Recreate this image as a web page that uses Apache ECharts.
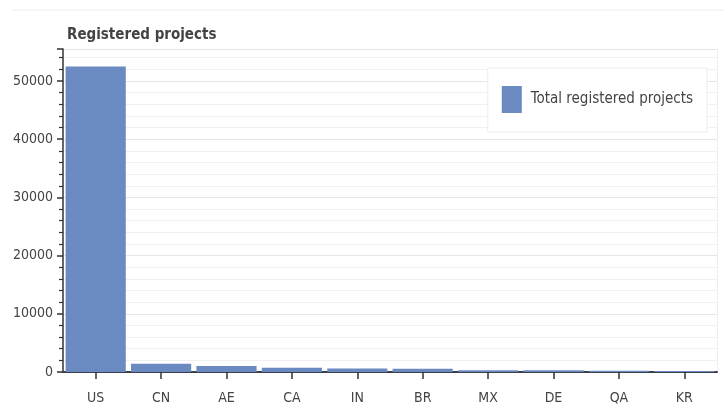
<!DOCTYPE html>
<html>
<head>
<meta charset="utf-8">
<script src="https://cdn.jsdelivr.net/npm/echarts@6/dist/echarts.min.js"></script>
<style>
  html, body { margin: 0; padding: 0; background: #fff; }
  #chart { width: 724px; height: 406px; }
</style>
</head>
<body>
<div id="chart"></div>
<script>
// Registered projects per country
const countries = ['US', 'CN', 'AE', 'CA', 'IN', 'BR', 'MX', 'DE', 'QA', 'KR'];
const registeredProjects = [52500, 1400, 1050, 750, 600, 550, 300, 280, 200, 180];
const seriesName = 'Total registered projects';
const yTickStep = 10000;

const FONT = '"Liberation Sans Narrow", "DejaVu Sans Condensed", "Liberation Sans", sans-serif';
const TEXT = '#444';
const BAR = '#6b8ac2';

const chart = echarts.init(document.getElementById('chart'), null, { renderer: 'canvas' });

chart.setOption({
  animation: false,
  backgroundColor: '#fff',
  title: {
    text: 'Registered projects',
    left: 62, top: 23,
    textStyle: { fontFamily: FONT, fontSize: 15, fontWeight: 'bold', color: TEXT }
  },
  legend: {
    right: 17, top: 68,
    orient: 'vertical',
    backgroundColor: '#fff',
    borderColor: '#ececec', borderWidth: 1,
    padding: [18, 14, 19, 14],
    itemWidth: 20, itemHeight: 27,
    itemGap: 10,
    icon: 'rect',
    textStyle: { fontFamily: FONT, fontSize: 15, color: TEXT, padding: [0, 0, 0, 4] },
    data: [seriesName]
  },
  grid: { left: 63, right: 7, top: 49, bottom: 34, containLabel: false },
  xAxis: {
    type: 'category',
    data: countries,
    axisLine: { show: true, lineStyle: { color: '#3a3f4a', width: 2 } },
    axisTick: { show: true, alignWithLabel: true, length: 7, lineStyle: { color: '#333', width: 1.5 } },
    axisLabel: { fontFamily: FONT, fontSize: 14, color: TEXT, margin: 19 },
    splitLine: { show: false }
  },
  yAxis: {
    type: 'value',
    min: 0, max: 55500, interval: yTickStep,
    axisLine: { show: true, lineStyle: { color: '#333', width: 1.5 } },
    axisTick: { show: true, length: 6, inside: false, lineStyle: { color: '#333', width: 1.5 } },
    minorTick: { show: true, splitNumber: 5, length: 4, lineStyle: { color: '#333', width: 1.2 } },
    axisLabel: {
      fontFamily: FONT, fontSize: 14, color: TEXT, margin: 10,
      formatter: v => (v % yTickStep === 0 ? String(v) : '')
    },
    splitLine: { show: true, lineStyle: { color: '#e6e6e6', width: 1 } },
    minorSplitLine: { show: true, lineStyle: { color: '#f0f0f0', width: 1 } }
  },
  graphic: [
    { type: 'line', shape: { x1: 12, y1: 10, x2: 724, y2: 10 }, style: { stroke: '#eeeeee', lineWidth: 1 }, silent: true },
    { type: 'line', shape: { x1: 717.5, y1: 49, x2: 717.5, y2: 372 }, style: { stroke: '#eeeeee', lineWidth: 1 }, silent: true }
  ],
  series: [{
    name: seriesName,
    type: 'bar',
    data: registeredProjects,
    barCategoryGap: '8%',
    itemStyle: { color: BAR }
  }]
});
</script>
</body>
</html>
